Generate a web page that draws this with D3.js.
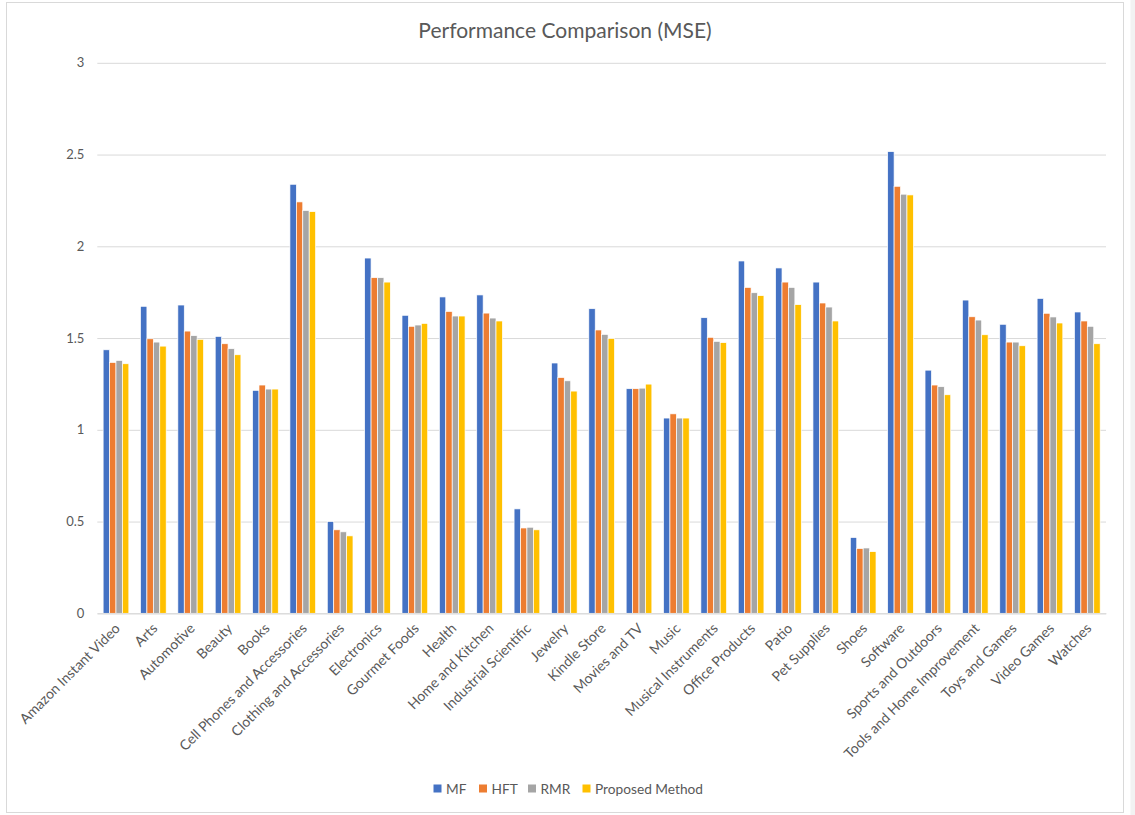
<!DOCTYPE html>
<html>
<head>
<meta charset="utf-8">
<script src="https://cdn.jsdelivr.net/npm/d3@7"></script>
<style>
  html, body { margin: 0; padding: 0; background: #fff; }
  svg { display: block; }
  text { font-family: Lato, "Open Sans", sans-serif; fill: #595959; }
</style>
</head>
<body>
<svg id="chart" width="1135" height="815"></svg>
<script>
const categories = ["Amazon Instant Video","Arts","Automotive","Beauty","Books","Cell Phones and Accessories","Clothing and Accessories","Electronics","Gourmet Foods","Health","Home and Kitchen","Industrial Scientific","Jewelry","Kindle Store","Movies and TV","Music","Musical Instruments","Office Products","Patio","Pet Supplies","Shoes","Software","Sports and Outdoors","Tools and Home Improvement","Toys and Games","Video Games","Watches"];
const seriesNames = ["MF","HFT","RMR","Proposed Method"];
const mf  = [1.436,1.673,1.680,1.509,1.215,2.338,0.500,1.936,1.624,1.724,1.735,0.569,1.364,1.660,1.224,1.064,1.611,1.920,1.882,1.805,0.413,2.516,1.325,1.707,1.575,1.716,1.642];
const hft = [1.367,1.496,1.538,1.469,1.244,2.242,0.455,1.829,1.564,1.645,1.636,0.465,1.285,1.544,1.224,1.087,1.504,1.776,1.805,1.691,0.353,2.327,1.244,1.616,1.478,1.635,1.593];
const rmr = [1.378,1.478,1.513,1.442,1.222,2.195,0.444,1.829,1.571,1.620,1.609,0.469,1.267,1.520,1.227,1.064,1.482,1.747,1.776,1.669,0.356,2.284,1.235,1.598,1.478,1.615,1.564];
const pm  = [1.360,1.456,1.493,1.409,1.222,2.189,0.422,1.805,1.580,1.620,1.593,0.455,1.211,1.498,1.249,1.064,1.475,1.731,1.682,1.593,0.336,2.280,1.191,1.518,1.458,1.582,1.469];
const yTicks = [0,0.5,1,1.5,2,2.5,3];
const colors = ["#4472C4","#ED7D31","#A5A5A5","#FFC000"];
const title = "Performance Comparison (MSE)";

const seriesValues = [mf, hft, rmr, pm];
const svg = d3.select("#chart");

// outer frame
svg.append("rect").attr("x",1130.5).attr("y",0).attr("width",5).attr("height",815).attr("fill","#f2f2f2");
svg.append("rect").attr("x",6.5).attr("y",2.5).attr("width",1117).attr("height",810)
  .attr("fill","#fff").attr("stroke","#d9d9d9").attr("stroke-width",1);

const x0 = d3.scaleBand().domain(categories).range([97.3, 1106]).paddingInner(0.312).paddingOuter(0.156);
const x1 = d3.scaleBand().domain(seriesNames).range([0, x0.bandwidth()]).padding(0);
const y = d3.scaleLinear().domain([0, 3]).range([613.3, 62.8]);

// gridlines
const yAxis = d3.axisLeft(y).tickValues(yTicks).tickSize(-(1106 - 97.3)).tickPadding(13)
  .tickFormat(d => d3.format("")(d));
const gy = svg.append("g").attr("transform", "translate(97.3,0)").call(yAxis);
gy.select(".domain").remove();
gy.selectAll(".tick line").attr("stroke", "#d9d9d9").attr("stroke-width", 1);
gy.selectAll(".tick text").style("font-size", "13px").attr("fill", "#595959");

// bars
const groups = svg.append("g").selectAll("g").data(categories).join("g")
  .attr("transform", d => `translate(${x0(d)},0)`);
groups.selectAll("rect")
  .data((c, i) => seriesNames.map((s, k) => ({ s, k, v: seriesValues[k][i] })))
  .join("rect")
  .attr("x", d => x1(d.s))
  .attr("y", d => y(d.v))
  .attr("width", x1.bandwidth())
  .attr("height", d => y(0) - y(d.v))
  .attr("fill", d => colors[d.k])
  .attr("stroke", "#fff").attr("stroke-width", 0.7);

// x axis baseline
const xAxis = d3.axisBottom(x0).tickSize(0).tickPadding(0);
const gx = svg.append("g").attr("transform", `translate(0,${y(0)})`).call(xAxis);
gx.select(".domain").attr("stroke", "#d9d9d9");
gx.selectAll(".tick text")
  .style("font-size", "14px")
  .attr("fill", "#595959")
  .attr("text-anchor", "end")
  .attr("dy", null).attr("y", 0)
  .attr("transform", "translate(5,16) rotate(-45)");

// title
svg.append("text").attr("x", 565).attr("y", 38).attr("text-anchor", "middle")
  .style("font-size", "21px").text(title);

// legend
const legendX = [433.5, 479, 528, 582.5];
const lg = svg.append("g").selectAll("g").data(seriesNames).join("g")
  .attr("transform", (d, i) => `translate(${legendX[i]},784.5)`);
lg.append("rect").attr("width", 8).attr("height", 8).attr("fill", (d, i) => colors[i]);
lg.append("text").attr("x", 12.5).attr("y", 9).style("font-size", "13.7px").text(d => d);
</script>
</body>
</html>
